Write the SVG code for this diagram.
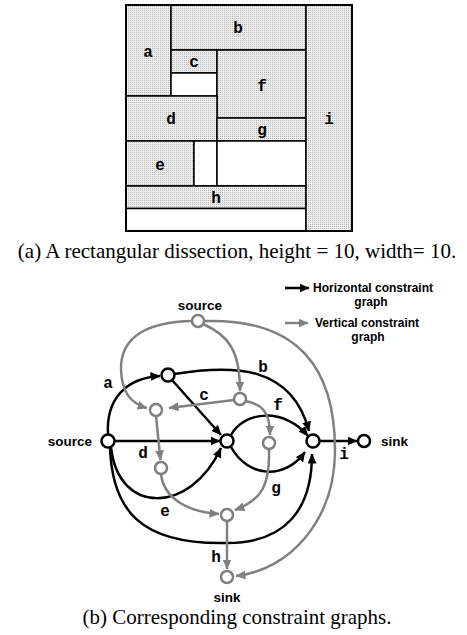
<svg xmlns="http://www.w3.org/2000/svg" width="467" height="635" viewBox="0 0 467 635">
<defs>
  <pattern id="stip" width="2" height="2" patternUnits="userSpaceOnUse">
    <rect width="2" height="2" fill="#efefef"/>
    <rect width="1" height="1" fill="#b4b4b4"/>
  </pattern>
  <marker id="ab" viewBox="0 0 10 9" refX="9.5" refY="4.5" markerWidth="10" markerHeight="9" markerUnits="userSpaceOnUse" orient="auto">
    <path d="M0,0 L10,4.5 L0,9 z" fill="#000"/>
  </marker>
  <marker id="ag" viewBox="0 0 10 9" refX="9.5" refY="4.5" markerWidth="10" markerHeight="9" markerUnits="userSpaceOnUse" orient="auto">
    <path d="M0,0 L10,4.5 L0,9 z" fill="#808080"/>
  </marker>
</defs>
<style>
  .sh { fill: url(#stip); stroke: #000; stroke-width: 1.5; }
  .wh { fill: #fff; stroke: #000; stroke-width: 1.5; }
  .lab { font-family: "Liberation Mono", "Courier New", monospace; font-weight: bold; font-size: 16px; text-anchor: middle; fill: #000; }
  .cap { font-family: "Liberation Serif", "Times New Roman", serif; font-size: 21px; text-anchor: middle; fill: #000; }
  .nm { font-family: "Liberation Sans", Arial, sans-serif; font-weight: bold; font-size: 13.5px; fill: #000; }
  .lg { font-family: "Liberation Sans", Arial, sans-serif; font-weight: bold; font-size: 12px; fill: #000; }
  .eb { fill: none; stroke: #000; stroke-width: 2.5; marker-end: url(#ab); }
  .eg { fill: none; stroke: #808080; stroke-width: 2.5; marker-end: url(#ag); }
  .nb { fill: #fff; stroke: #000; stroke-width: 2.5; }
  .ng { fill: #fff; stroke: #808080; stroke-width: 2.5; }
</style>

<g id="dissection">
  <rect class="sh" x="126" y="5" width="45" height="91"/>
  <rect class="sh" x="171" y="5" width="135" height="45"/>
  <rect class="sh" x="171" y="50" width="46" height="23"/>
  <rect class="wh" x="171" y="73" width="46" height="23"/>
  <rect class="sh" x="217" y="50" width="89" height="68"/>
  <rect class="sh" x="126" y="96" width="91" height="45"/>
  <rect class="sh" x="217" y="118" width="89" height="23"/>
  <rect class="sh" x="126" y="141" width="68" height="45"/>
  <rect class="wh" x="194" y="141" width="23" height="45"/>
  <rect class="wh" x="217" y="141" width="89" height="45"/>
  <rect class="sh" x="126" y="186" width="180" height="22.5"/>
  <rect class="wh" x="126" y="208.5" width="180" height="22.5"/>
  <rect class="sh" x="306" y="5" width="46" height="226"/>
  <rect x="126" y="5" width="226" height="226" fill="none" stroke="#000" stroke-width="2"/>
  <text class="lab" x="148" y="57">a</text>
  <text class="lab" x="238" y="33">b</text>
  <text class="lab" x="194" y="67">c</text>
  <text class="lab" x="262" y="91">f</text>
  <text class="lab" x="171" y="124">d</text>
  <text class="lab" x="262" y="135">g</text>
  <text class="lab" x="160" y="170">e</text>
  <text class="lab" x="216" y="203">h</text>
  <text class="lab" x="329" y="124">i</text>
</g>
<text class="cap" x="237" y="258">(a) A rectangular dissection, height = 10, width= 10.</text>

<g id="legend">
  <line x1="285" y1="288" x2="309" y2="288" class="eb"/>
  <text class="lg" x="313" y="292">Horizontal constraint</text>
  <text class="lg" x="371" y="306" text-anchor="middle">graph</text>
  <line x1="285" y1="323" x2="308" y2="323" class="eg"/>
  <text class="lg" x="315" y="327">Vertical constraint</text>
  <text class="lg" x="368" y="341" text-anchor="middle">graph</text>
</g>

<g id="connectors">
  <path class="eb" d="M108,434 C106,400 125,378 160,376"/>
  <path class="eb" d="M174,374 C235,364 292,366 309,431"/>
  <path class="eb" d="M172,380 L221,435"/>
  <path class="eb" d="M115,441 L220,441"/>
  <path class="eb" d="M231,435 C245,410 285,408 308,436"/>
  <path class="eb" d="M231,447 C248,478 285,480 305,452"/>
  <path class="eb" d="M111,447 C118,515 190,515 221,448"/>
  <path class="eb" d="M110,447 C112,510 140,545 227,543 C285,543 312,510 312,454"/>
  <path class="eb" d="M320,441 L357,441"/>

  <path class="eg" d="M192,321 C150,322 120,335 121,370 C122,392 130,403 147,408"/>
  <path class="eg" d="M203,324 C228,335 240,350 240,391"/>
  <path class="eg" d="M204,321 C300,318 335,370 335,450 C335,520 290,570 236,576"/>
  <path class="eg" d="M234,400 L169,408"/>
  <path class="eg" d="M245,401 C262,404 270,412 270,435"/>
  <path class="eg" d="M156,416 L160.5,460"/>
  <path class="eg" d="M161,474 C164,500 190,512 219,514"/>
  <path class="eg" d="M269,449 C270,485 262,500 235,510"/>
  <path class="eg" d="M227,521 L227,569"/>
</g>

<g id="edge-labels">
  <text class="lab" x="108" y="388">a</text>
  <text class="lab" x="263" y="372">b</text>
  <text class="lab" x="204" y="400">c</text>
  <text class="lab" x="143" y="458">d</text>
  <text class="lab" x="165" y="516">e</text>
  <text class="lab" x="278" y="410">f</text>
  <text class="lab" x="276" y="493">g</text>
  <text class="lab" x="216" y="562">h</text>
  <text class="lab" x="344" y="459">i</text>
</g>

<g id="source-top"><circle class="ng" cx="198" cy="321" r="6"/><text class="nm" x="200" y="310" text-anchor="middle">source</text></g>
<g id="source-left"><circle class="nb" cx="108" cy="441" r="6.5"/><text class="nm" x="92" y="446" text-anchor="end">source</text></g>
<g id="node-a"><circle class="nb" cx="168" cy="375" r="6.5"/></g>
<g id="node-center"><circle class="nb" cx="227" cy="441" r="6.5"/></g>
<g id="node-right"><circle class="nb" cx="313" cy="441" r="6.5"/></g>
<g id="sink-right"><circle class="nb" cx="364" cy="441" r="6"/><text class="nm" x="381" y="446">sink</text></g>
<g id="vnode-c"><circle class="ng" cx="240" cy="399" r="6"/></g>
<g id="vnode-a"><circle class="ng" cx="156" cy="410" r="6"/></g>
<g id="vnode-d"><circle class="ng" cx="161" cy="468" r="6"/></g>
<g id="vnode-f"><circle class="ng" cx="269" cy="443" r="6"/></g>
<g id="vnode-e"><circle class="ng" cx="227" cy="515" r="6"/></g>
<g id="sink-bottom"><circle class="ng" cx="227" cy="577" r="6"/><text class="nm" x="227" y="602" text-anchor="middle">sink</text></g>

<text class="cap" x="237" y="624">(b) Corresponding constraint graphs.</text>
</svg>
